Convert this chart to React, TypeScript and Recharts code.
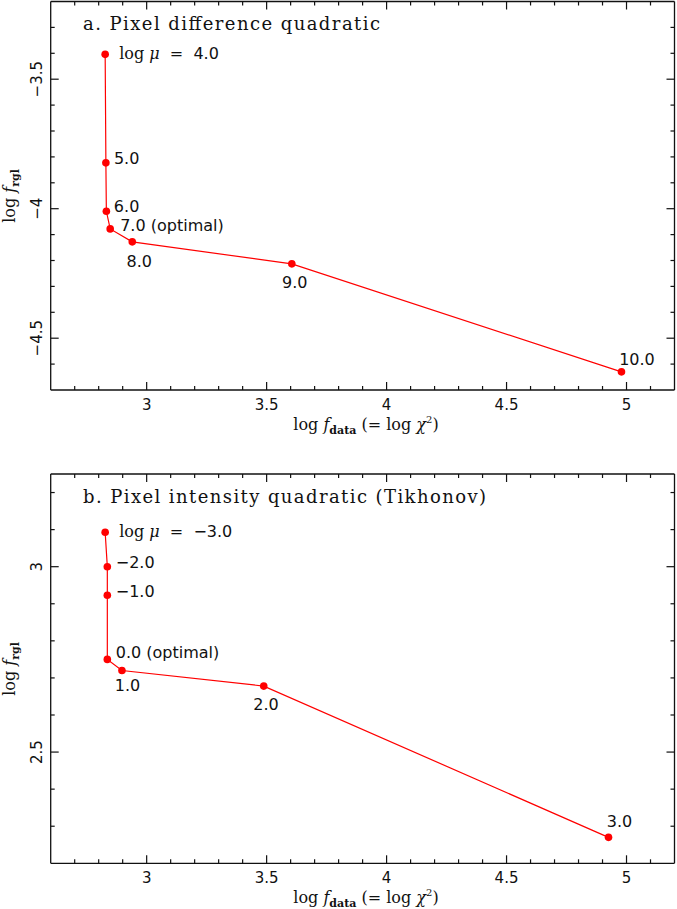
import React from 'react';
import { ScatterChart, Scatter, XAxis, YAxis } from 'recharts';

// shared x axis (log f_data)
const xDomain = [2.6, 5.2];
const xTicks = [2.7, 2.8, 2.9, 3, 3.1, 3.2, 3.3, 3.4, 3.5, 3.6, 3.7, 3.8, 3.9, 4, 4.1, 4.2, 4.3, 4.4, 4.5, 4.6, 4.7, 4.8, 4.9, 5, 5.1];

// panel a: pixel difference quadratic
const yDomainA = [-4.7, -3.2];
const yTicksA = [-3.3, -3.4, -3.5, -3.6, -3.7, -3.8, -3.9, -4, -4.1, -4.2, -4.3, -4.4, -4.5, -4.6];
const logFdataA = [2.827, 2.83, 2.832, 2.848, 2.94, 3.605, 4.979];
const logFrglA = [-3.404, -3.823, -4.01, -4.078, -4.128, -4.213, -4.63];
const logMuA = ['4.0', '5.0', '6.0', '7.0', '8.0', '9.0', '10.0'];
const optimalA = 3;

// panel b: pixel intensity quadratic (Tikhonov)
const yDomainB = [2.2, 3.25];
const yTicksB = [2.3, 2.4, 2.5, 2.6, 2.7, 2.8, 2.9, 3, 3.1, 3.2];
const logFdataB = [2.827, 2.836, 2.836, 2.836, 2.897, 3.488, 4.925];
const logFrglB = [3.093, 3.0, 2.923, 2.75, 2.72, 2.678, 2.27];
const logMuB = ['\u22123.0', '\u22122.0', '\u22121.0', '0.0', '1.0', '2.0', '3.0'];
const optimalB = 3;

// where each point label sits relative to its dot
const labelPosA = [
  { dx: 14, dy: 5, anchor: 'start' },
  { dx: 8, dy: 1.5, anchor: 'start' },
  { dx: 7.5, dy: 1, anchor: 'start' },
  { dx: 10, dy: 2.5, anchor: 'start' },
  { dx: 7, dy: 25, anchor: 'middle' },
  { dx: 3, dy: 24, anchor: 'middle' },
  { dx: 15.5, dy: -7, anchor: 'middle' },
];
const labelPosB = [
  { dx: 14, dy: 4.5, anchor: 'start' },
  { dx: 8.4, dy: 1.5, anchor: 'start' },
  { dx: 8.4, dy: 2, anchor: 'start' },
  { dx: 8.4, dy: -1.5, anchor: 'start' },
  { dx: 5.5, dy: 20.5, anchor: 'middle' },
  { dx: 2.3, dy: 24, anchor: 'middle' },
  { dx: 11, dy: -10.5, anchor: 'middle' },
];

const RED = '#ff0000';
const SANS = '"DejaVu Sans", sans-serif';
const SERIF = '"DejaVu Serif", serif';

const fmt = (v: number) => (v < 0 ? '\u2212' : '') + String(Math.abs(v));
const isMajor = (v: number) => Math.abs(v * 2 - Math.round(v * 2)) < 1e-6;

const makeTick = (side: 'bottom' | 'top' | 'left' | 'right') => (props: any) => {
  const { x, y, payload } = props;
  const v = payload.value;
  const len = isMajor(v) ? 8 : 4;
  let line;
  if (side === 'bottom') line = <line x1={x} x2={x} y1={y} y2={y - len} />;
  else if (side === 'top') line = <line x1={x} x2={x} y1={y} y2={y + len} />;
  else if (side === 'left') line = <line x1={x} x2={x + len} y1={y} y2={y} />;
  else line = <line x1={x} x2={x - len} y1={y} y2={y} />;
  return (
    <g stroke="#111" strokeWidth={1.2}>
      {line}
      {side === 'bottom' && isMajor(v) && (
        <text x={x} y={y + 20} textAnchor="middle" fontFamily={SANS} fontSize={15} fill="#111" stroke="none">
          {fmt(v)}
        </text>
      )}
      {side === 'left' && isMajor(v) && (
        <text
          x={x - 9}
          y={y}
          transform={`rotate(-90, ${x - 9}, ${y})`}
          textAnchor="middle"
          fontFamily={SANS}
          fontSize={15}
          fill="#111"
          stroke="none"
        >
          {fmt(v)}
        </text>
      )}
    </g>
  );
};

const makeShape = (positions: any[], optimal: number) => (props: any) => {
  const { cx, cy, payload } = props;
  const i = payload.idx;
  const p = positions[i];
  return (
    <g>
      <circle cx={cx} cy={cy} r={3.8} fill={RED} />
      <text
        x={cx + p.dx}
        y={cy + p.dy}
        textAnchor={p.anchor}
        fontFamily={SANS}
        fontSize={16}
        fill="#111"
        style={{ whiteSpace: 'pre' }}
      >
        {i === 0 && (
          <>
            <tspan fontFamily={SERIF}>{'log '}</tspan>
            <tspan fontFamily={SERIF} fontStyle="italic">{'\u03bc'}</tspan>
            {'  =  '}
          </>
        )}
        {payload.label}
        {i === optimal && <tspan>{' (optimal)'}</tspan>}
      </text>
    </g>
  );
};

const XTitle = ({ x, y }: { x: number; y: number }) => (
  <text x={x} y={y} textAnchor="middle" fontFamily={SERIF} fontSize={16} fill="#111">
    {'log '}
    <tspan fontStyle="italic">f</tspan>
    <tspan dy={4} fontSize={11} fontWeight="bold">data</tspan>
    <tspan dy={-4}>{' (= log '}</tspan>
    <tspan fontStyle="italic">{'\u03c7'}</tspan>
    <tspan dy={-7} fontSize={10}>2</tspan>
    <tspan dy={7}>)</tspan>
  </text>
);

const YTitle = ({ x, y }: { x: number; y: number }) => (
  <text x={x} y={y} transform={`rotate(-90, ${x}, ${y})`} textAnchor="middle" fontFamily={SERIF} fontSize={16} fill="#111">
    {'log '}
    <tspan fontStyle="italic">f</tspan>
    <tspan dy={4} fontSize={11} fontWeight="bold">rgl</tspan>
  </text>
);

type PanelProps = {
  height: number;
  top: number;
  bottom: number;
  xs: number[];
  ys: number[];
  labels: string[];
  positions: any[];
  optimal: number;
  yDomain: number[];
  yTicks: number[];
  title: string;
  titleY: number;
  titleLen: number;
  xTitleY: number;
  yTitleY: number;
};

const axisLine = { stroke: '#111', strokeWidth: 1.3 };

function Panel(props: PanelProps) {
  const rows = props.xs.map((x, i) => ({ x, y: props.ys[i], label: props.labels[i], idx: i }));
  // top/right frame axes take 1px each (an axis of size 0 is not drawn)
  return (
    <ScatterChart
      width={677}
      height={props.height}
      margin={{ top: props.top - 1, right: 1.5, left: 0, bottom: 0 }}
    >
      <XAxis
        xAxisId="b"
        type="number"
        dataKey="x"
        orientation="bottom"
        domain={xDomain}
        allowDataOverflow
        ticks={xTicks}
        interval={0}
        height={props.bottom}
        tickSize={0}
        tickMargin={0}
        tickLine={false}
        tick={makeTick('bottom')}
        axisLine={axisLine}
      />
      <XAxis
        xAxisId="t"
        type="number"
        dataKey="x"
        orientation="top"
        domain={xDomain}
        allowDataOverflow
        ticks={xTicks}
        interval={0}
        height={1}
        tickSize={0}
        tickMargin={0}
        tickLine={false}
        tick={makeTick('top')}
        axisLine={axisLine}
      />
      <YAxis
        yAxisId="l"
        type="number"
        dataKey="y"
        orientation="left"
        domain={props.yDomain}
        allowDataOverflow
        ticks={props.yTicks}
        interval={0}
        width={50.7}
        tickSize={0}
        tickMargin={0}
        tickLine={false}
        tick={makeTick('left')}
        axisLine={axisLine}
      />
      <YAxis
        yAxisId="r"
        type="number"
        dataKey="y"
        orientation="right"
        domain={props.yDomain}
        allowDataOverflow
        ticks={props.yTicks}
        interval={0}
        width={1}
        tickSize={0}
        tickMargin={0}
        tickLine={false}
        tick={makeTick('right')}
        axisLine={axisLine}
      />
      {/* invisible series tied to the top and right frame axes */}
      <Scatter
        xAxisId="t"
        yAxisId="r"
        data={rows}
        shape={() => <g />}
        isAnimationActive={false}
      />
      <Scatter
        xAxisId="b"
        yAxisId="l"
        data={rows}
        line={{ stroke: RED, strokeWidth: 1.2 }}
        shape={makeShape(props.positions, props.optimal)}
        isAnimationActive={false}
      />
      <text
        x={83}
        y={props.titleY}
        fontFamily={SERIF}
        fontSize={18}
        fill="#111"
        textLength={props.titleLen}
        lengthAdjust="spacing"
      >
        {props.title}
      </text>
      <XTitle x={366} y={props.xTitleY} />
      <YTitle x={15} y={props.yTitleY} />
    </ScatterChart>
  );
}

export default function App() {
  return (
    <div style={{ position: 'absolute', left: 0, top: 0, width: 677, height: 909, background: '#fff' }}>
      <Panel
        height={445}
        top={1.5}
        bottom={55}
        xs={logFdataA}
        ys={logFrglA}
        labels={logMuA}
        positions={labelPosA}
        optimal={optimalA}
        yDomain={yDomainA}
        yTicks={yTicksA}
        title="a. Pixel difference quadratic"
        titleY={30}
        titleLen={297}
        xTitleY={430}
        yTitleY={196}
      />
      <Panel
        height={464}
        top={29}
        bottom={45.7}
        xs={logFdataB}
        ys={logFrglB}
        labels={logMuB}
        positions={labelPosB}
        optimal={optimalB}
        yDomain={yDomainB}
        yTicks={yTicksB}
        title="b. Pixel intensity quadratic (Tikhonov)"
        titleY={58}
        titleLen={403}
        xTitleY={458}
        yTitleY={224}
      />
    </div>
  );
}
